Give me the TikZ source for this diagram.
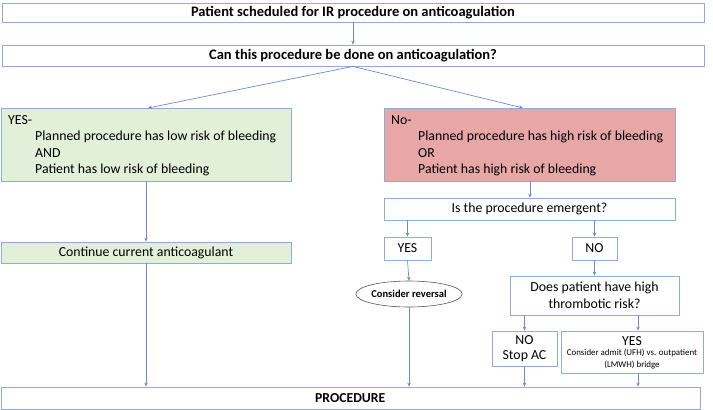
\documentclass[tikz,border=0pt]{standalone}
\usepackage{fontspec}
\setmainfont{Carlito}
\usetikzlibrary{arrows.meta,shapes.geometric}
\definecolor{bord}{HTML}{8FAADC}
\definecolor{arrc}{HTML}{6A8CCF}
\definecolor{gfill}{HTML}{E2F0D9}
\definecolor{rfill}{HTML}{E8A7A7}
\definecolor{ellc}{HTML}{595959}
\tikzset{
  box/.style={draw=bord, line width=0.8pt, rectangle, inner sep=0pt, align=center},
  arr/.style={draw=arrc, line width=0.7pt, -{Stealth[length=4pt,width=3.5pt]}},
  big/.style={font=\fontsize{14.5}{16}\selectfont\bfseries},
  reg/.style={font=\fontsize{13.8}{16}\selectfont},
  txt/.style={inner sep=0pt, anchor=west, font=\fontsize{13.8}{16}\selectfont}
}
\begin{document}
\begin{tikzpicture}[x=1pt,y=-1pt]
\useasboundingbox (0,0) rectangle (713,410);
% top boxes
\node[box,big,minimum width=702pt,minimum height=19pt] (top) at (353,12.5) {Patient scheduled for IR procedure on anticoagulation};
\node[box,big,minimum width=702pt,minimum height=21pt] (q) at (353,55.5) {Can this procedure be done on anticoagulation?};
% yes / no boxes
\node[box,fill=gfill,minimum width=290pt,minimum height=73pt] (yes) at (146,144.5) {};
\node[txt] (yes1) at (8,120) {YES-};
\node[txt] (yes2) at (35,137) {Planned procedure has low risk of bleeding};
\node[txt] (yes3) at (35,153.5) {AND};
\node[txt] (yes4) at (35,170) {Patient has low risk of bleeding};
\node[box,fill=rfill,minimum width=291pt,minimum height=73pt] (no) at (529.5,144.5) {};
\node[txt] (no1) at (391,120) {No-};
\node[txt] (no2) at (418,137) {Planned procedure has high risk of bleeding};
\node[txt] (no3) at (418,153.5) {OR};
\node[txt] (no4) at (418,170) {Patient has high risk of bleeding};
% continue
\node[box,reg,fill=gfill,minimum width=290pt,minimum height=21pt] (cont) at (146,252.5) {Continue current anticoagulant};
% emergent
\node[box,reg,minimum width=291pt,minimum height=22pt] (emerg) at (529.5,209) {Is the procedure emergent?};
\node[box,reg,minimum width=47pt,minimum height=23pt] (yesb) at (407.5,248.5) {YES};
\node[box,reg,minimum width=45pt,minimum height=23pt] (nob) at (594.5,248.5) {NO};
\node[ellipse,draw=ellc,line width=0.6pt,minimum width=102pt,minimum height=26pt,inner sep=0pt,font=\fontsize{10.5}{12}\selectfont\bfseries] (ell) at (409,294) {Consider reversal};
\node[box,font=\fontsize{13.8}{16.5}\selectfont,minimum width=169pt,minimum height=39pt] (thr) at (594.5,295.5) {Does patient have high\\thrombotic risk?};
\node[box,font=\fontsize{13.8}{15}\selectfont,minimum width=65pt,minimum height=35pt] (stop) at (524.5,348.5) {NO\\Stop AC};
\node[box,minimum width=142pt,minimum height=42pt] (bridge) at (632,352) {};
\node[inner sep=0pt,font=\fontsize{13.8}{15}\selectfont] (br1) at (632,341) {YES};
\node[inner sep=0pt,align=center,font=\fontsize{8.9}{12}\selectfont] (br2) at (632,359.5) {Consider admit (UFH) vs. outpatient\\(LMWH) bridge};
% procedure
\node[box,minimum width=699pt,minimum height=22pt] (proc) at (350.5,398) {};
\node[inner sep=0pt,anchor=west,font=\fontsize{13.7}{15}\selectfont\bfseries] (proct) at (315,398) {PROCEDURE};
% arrows
\draw[arr] (top.south) -- (q.north);
\draw[arr] (q.south) -- (148,108);
\draw[arr] (q.south) -- (523,108);
\draw[arr] (yes.south -| cont.north) -- (cont.north);
\draw[arr] (cont.south) -- (cont.south |- proc.north);
\draw[arr] (no.south -| 530,0) -- (emerg.north -| 530,0);
\draw[arr] (emerg.south -| yesb.north) -- (yesb.north);
\draw[arr] (emerg.south -| nob.north) -- (nob.north);
\draw[arr] (yesb.south) -- (ell.north);
\draw[arr] (ell.south) -- (ell.south |- proc.north);
\draw[arr] (nob.south) -- (nob.south |- thr.north);
\draw[arr] (thr.south -| stop.north) -- (stop.north);
\draw[arr] (thr.south -| 638,0) -- (bridge.north -| 638,0);
\draw[arr] (stop.south) -- (stop.south |- proc.north);
\draw[arr] (bridge.south -| 638,0) -- (proc.north -| 638,0);
\end{tikzpicture}
\end{document}
